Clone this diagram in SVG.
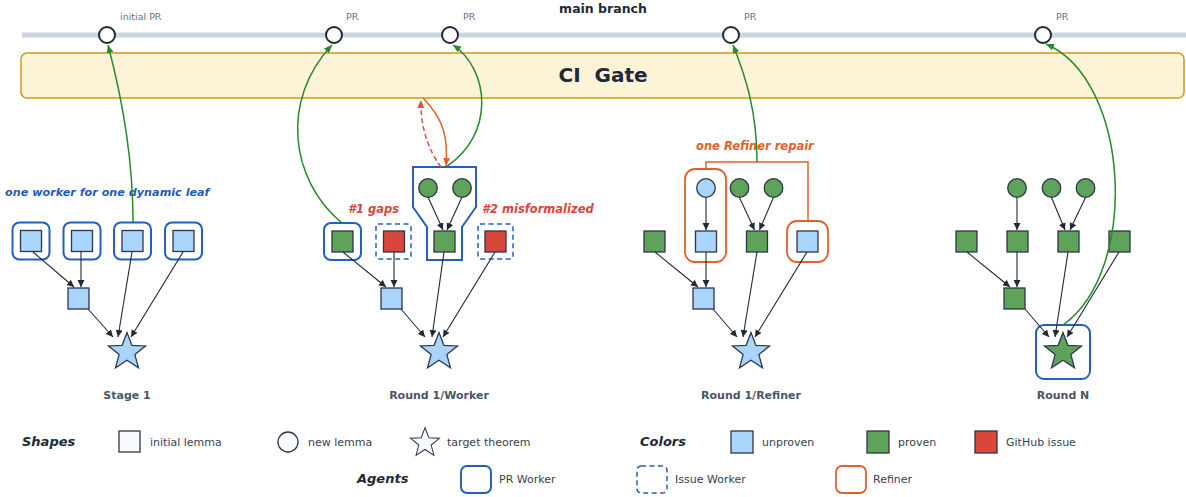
<svg xmlns="http://www.w3.org/2000/svg" width="1186" height="497" viewBox="0 0 1186 497">
<defs>
<style>
text{font-family:"DejaVu Sans","Liberation Sans",sans-serif;}
.pr{font-size:9.5px;fill:#6b7280;}
.title{font-size:12.5px;font-weight:bold;fill:#1f2937;}
.stage{font-size:11px;font-weight:bold;fill:#4a5568;text-anchor:middle;}
.note{font-size:11.5px;font-weight:bold;font-style:italic;}
.leg{font-size:11px;fill:#374151;}
.legh{font-size:13px;font-weight:bold;font-style:italic;fill:#1f2937;}
.prc{fill:#fff;stroke:#1f2937;stroke-width:2;}
.sq{stroke:#2d3748;stroke-width:1.3;}
.u{fill:#a9d5fd;}
.p{fill:#5fa35a;}
.r{fill:#d9473b;}
.w{fill:#f8fafc;}
.worker{fill:none;stroke:#2260bd;stroke-width:2;}
.issue{fill:none;stroke:#2260bd;stroke-width:1.5;stroke-dasharray:5,3.5;}
.refiner{fill:none;stroke:#e0622a;stroke-width:1.8;}
.e{fill:none;stroke:#1f2937;stroke-width:1.1;marker-end:url(#ah);}
.g{fill:none;stroke:#2a8a2a;stroke-width:1.5;marker-end:url(#ag);}
</style>
<marker id="ah" markerUnits="userSpaceOnUse" markerWidth="8" markerHeight="8" refX="7" refY="3.5" orient="auto"><path d="M0,0 L7,3.5 L0,7 z" fill="#1f2937"/></marker>
<marker id="ag" markerUnits="userSpaceOnUse" markerWidth="9" markerHeight="8" refX="8" refY="3.5" orient="auto"><path d="M0,0 L8,3.5 L0,7 z" fill="#2a8a2a"/></marker>
<marker id="ao" markerUnits="userSpaceOnUse" markerWidth="9" markerHeight="8" refX="8" refY="3.5" orient="auto"><path d="M0,0 L8,3.5 L0,7 z" fill="#e0622a"/></marker>
<marker id="ar" markerUnits="userSpaceOnUse" markerWidth="9" markerHeight="8" refX="8" refY="3.5" orient="auto"><path d="M0,0 L8,3.5 L0,7 z" fill="#e04f4f"/></marker>
<path id="star" d="M0,-19.5 L4.9,-6.7 L18.55,-6.03 L7.9,2.6 L11.46,15.78 L0,8.3 L-11.46,15.78 L-7.9,2.6 L-18.55,-6.03 L-4.9,-6.7 Z"/>
</defs>
<rect width="1186" height="497" fill="#fff"/>

<g id="main-branch">
<line x1="22" y1="35" x2="1186" y2="35" stroke="#cbd5e1" stroke-width="5"/>
<text class="title" x="603" y="12.5" text-anchor="middle">main branch</text>
</g>
<g id="pr-initial"><circle class="prc" cx="107" cy="35" r="8"/><text class="pr" x="120" y="20">initial PR</text></g>
<g id="pr-1"><circle class="prc" cx="334" cy="35" r="8"/><text class="pr" x="346" y="20">PR</text></g>
<g id="pr-2"><circle class="prc" cx="450" cy="35" r="8"/><text class="pr" x="463" y="20">PR</text></g>
<g id="pr-3"><circle class="prc" cx="731" cy="35" r="8"/><text class="pr" x="744" y="20">PR</text></g>
<g id="pr-4"><circle class="prc" cx="1043" cy="35" r="8"/><text class="pr" x="1056" y="20">PR</text></g>

<g id="ci-gate">
<rect x="21" y="53" width="1163" height="45" rx="6" fill="#fdf3d6" stroke="#d4980e" stroke-width="1.5"/>
<text x="603" y="82" text-anchor="middle" font-size="20" font-weight="bold" fill="#1f2937" style="white-space:pre">CI  Gate</text>
</g>

<!-- Stage 1 -->
<g id="stage1">
<text class="note" x="5" y="196" fill="#1e5bb8" style="font-size:11.2px">one worker for one dynamic leaf</text>
<rect class="worker" x="12.5" y="222.5" width="37" height="37" rx="7"/>
<rect class="worker" x="63.5" y="222.5" width="37" height="37" rx="7"/>
<rect class="worker" x="114" y="222.5" width="37" height="37" rx="7"/>
<rect class="worker" x="165" y="222.5" width="37" height="37" rx="7"/>
<rect class="sq u" x="20.5" y="230.5" width="21" height="21"/>
<rect class="sq u" x="71.5" y="230.5" width="21" height="21"/>
<rect class="sq u" x="122" y="230.5" width="21" height="21"/>
<rect class="sq u" x="173" y="230.5" width="21" height="21"/>
<rect class="sq u" x="68" y="288" width="21" height="21"/>
<use href="#star" class="sq u" x="127" y="352"/>
<text class="stage" x="127" y="399">Stage 1</text>
</g>

<!-- Round 1 / Worker -->
<g id="round1-worker">
<text class="note" x="348" y="213" fill="#d9453a">#1 gaps</text>
<text class="note" x="482" y="213" fill="#d9453a">#2 misformalized</text>
<rect class="worker" x="324" y="223" width="37" height="37" rx="7"/>
<rect class="issue" x="376" y="224" width="35" height="35" rx="2"/>
<path class="worker" d="M413,167 H476 V207 L462,227 V260 H427 V227 L413,207 Z"/>
<rect class="issue" x="478" y="224" width="35" height="35" rx="2"/>
<rect class="sq p" x="332" y="231" width="21" height="21"/>
<rect class="sq r" x="383.5" y="231" width="21" height="21"/>
<rect class="sq p" x="434" y="231" width="21" height="21"/>
<rect class="sq r" x="485" y="231" width="21" height="21"/>
<circle class="sq p" cx="428" cy="188" r="9.3"/>
<circle class="sq p" cx="462" cy="188" r="9.3"/>
<rect class="sq u" x="381" y="288" width="21" height="21"/>
<use href="#star" class="sq u" x="439" y="352"/>
<text class="stage" x="439" y="399">Round 1/Worker</text>
</g>

<!-- Round 1 / Refiner -->
<g id="round1-refiner">
<text class="note" x="696" y="150" fill="#e0622a">one Refiner repair</text>
<path d="M706,169 V162 H808 V221" fill="none" stroke="#e0622a" stroke-width="1.5"/>
<rect class="refiner" x="685" y="169" width="41" height="93" rx="10"/>
<rect class="refiner" x="787" y="221" width="41" height="41" rx="10"/>
<circle class="sq u" cx="706" cy="188" r="9.3"/>
<circle class="sq p" cx="739.5" cy="188" r="9.3"/>
<circle class="sq p" cx="773.5" cy="188" r="9.3"/>
<rect class="sq p" x="644" y="231" width="21" height="21"/>
<rect class="sq u" x="695.5" y="231" width="21" height="21"/>
<rect class="sq p" x="746.5" y="231" width="21" height="21"/>
<rect class="sq u" x="797" y="231" width="21" height="21"/>
<rect class="sq u" x="693" y="288" width="21" height="21"/>
<use href="#star" class="sq u" x="751" y="352"/>
<text class="stage" x="751" y="399">Round 1/Refiner</text>
</g>

<!-- Round N -->
<g id="roundN">
<circle class="sq p" cx="1017" cy="188" r="9.3"/>
<circle class="sq p" cx="1051.5" cy="188" r="9.3"/>
<circle class="sq p" cx="1085.5" cy="188" r="9.3"/>
<rect class="sq p" x="956" y="231" width="21" height="21"/>
<rect class="sq p" x="1007" y="231" width="21" height="21"/>
<rect class="sq p" x="1058" y="231" width="21" height="21"/>
<rect class="sq p" x="1109" y="231" width="21" height="21"/>
<rect class="sq p" x="1004" y="288" width="21" height="21"/>
<rect class="worker" x="1036" y="325" width="54" height="54" rx="8"/>
<use href="#star" class="sq p" x="1063" y="352"/>
<text class="stage" x="1063" y="399">Round N</text>
</g>

<g id="connectors">
<!-- stage 1 -->
<line class="e" x1="33" y1="252" x2="74" y2="287"/>
<line class="e" x1="81" y1="252" x2="81" y2="287"/>
<line class="e" x1="132" y1="252" x2="118" y2="337"/>
<line class="e" x1="183" y1="252" x2="131" y2="337"/>
<line class="e" x1="88" y1="309" x2="113" y2="337"/>
<!-- round 1 worker -->
<line class="e" x1="343" y1="252" x2="386" y2="287"/>
<line class="e" x1="394" y1="252" x2="394" y2="287"/>
<line class="e" x1="428" y1="197" x2="443" y2="230"/>
<line class="e" x1="462" y1="197" x2="447" y2="230"/>
<line class="e" x1="444" y1="252" x2="432" y2="337"/>
<line class="e" x1="495" y1="252" x2="443" y2="337"/>
<line class="e" x1="401" y1="309" x2="425" y2="337"/>
<!-- round 1 refiner -->
<line class="e" x1="706" y1="197.5" x2="706" y2="230"/>
<line class="e" x1="739.5" y1="197.5" x2="754.5" y2="230"/>
<line class="e" x1="773.5" y1="197.5" x2="759.5" y2="230"/>
<line class="e" x1="655" y1="252" x2="698" y2="287"/>
<line class="e" x1="706" y1="252" x2="706" y2="287"/>
<line class="e" x1="757" y1="252" x2="743" y2="337"/>
<line class="e" x1="807" y1="252" x2="755" y2="337"/>
<line class="e" x1="713" y1="309" x2="737" y2="337"/>
<!-- round N -->
<line class="e" x1="1017" y1="197.5" x2="1017" y2="230"/>
<line class="e" x1="1051.5" y1="197.5" x2="1065" y2="230"/>
<line class="e" x1="1085.5" y1="197.5" x2="1070" y2="230"/>
<line class="e" x1="967" y1="252" x2="1010" y2="287"/>
<line class="e" x1="1017" y1="252" x2="1017" y2="287"/>
<line class="e" x1="1068" y1="252" x2="1055" y2="337"/>
<line class="e" x1="1119" y1="252" x2="1067" y2="337"/>
<line class="e" x1="1025" y1="309" x2="1049" y2="337"/>
<!-- PR arrows -->
<path class="g" d="M133,222 C133,150 120,90 108,45"/>
<path class="g" d="M342,223 C290,180 280,100 332,45"/>
<path class="g" d="M446,167 C495,135 490,70 453,45"/>
<path class="g" d="M757,162 C757,110 745,75 733,45"/>
<path class="g" d="M1063,325 C1140,270 1130,80 1046,44"/>
<!-- CI feedback -->
<path d="M423,98 C445,120 448,140 446,166" fill="none" stroke="#e0622a" stroke-width="1.5" marker-end="url(#ao)"/>
<path d="M441,167 C428,150 420,125 421,100" fill="none" stroke="#e04f4f" stroke-width="1.5" stroke-dasharray="5,3" marker-end="url(#ar)"/>
</g>

<g id="legend">
<text class="legh" x="22" y="446">Shapes</text>
<rect class="sq w" x="119" y="431" width="21" height="21"/>
<text class="leg" x="150" y="446">initial lemma</text>
<circle class="sq w" cx="288" cy="442" r="10"/>
<text class="leg" x="308" y="446">new lemma</text>
<use href="#star" class="sq w" transform="translate(425,443) scale(0.78)"/>
<text class="leg" x="447" y="446">target theorem</text>
<text class="legh" x="640" y="446">Colors</text>
<rect class="sq u" x="731" y="431" width="22" height="22"/>
<text class="leg" x="762" y="446">unproven</text>
<rect class="sq p" x="867" y="431" width="22" height="22"/>
<text class="leg" x="898" y="446">proven</text>
<rect class="sq r" x="975" y="431" width="22" height="22"/>
<text class="leg" x="1006" y="446">GitHub issue</text>
<text class="legh" x="357" y="483">Agents</text>
<rect class="worker" x="461" y="466" width="30" height="27" rx="6"/>
<text class="leg" x="499" y="483">PR Worker</text>
<rect class="issue" x="637" y="466" width="30" height="27" rx="4"/>
<text class="leg" x="675" y="483">Issue Worker</text>
<rect class="refiner" x="836" y="466" width="30" height="27" rx="6"/>
<text class="leg" x="873" y="483">Refiner</text>
</g>
</svg>
